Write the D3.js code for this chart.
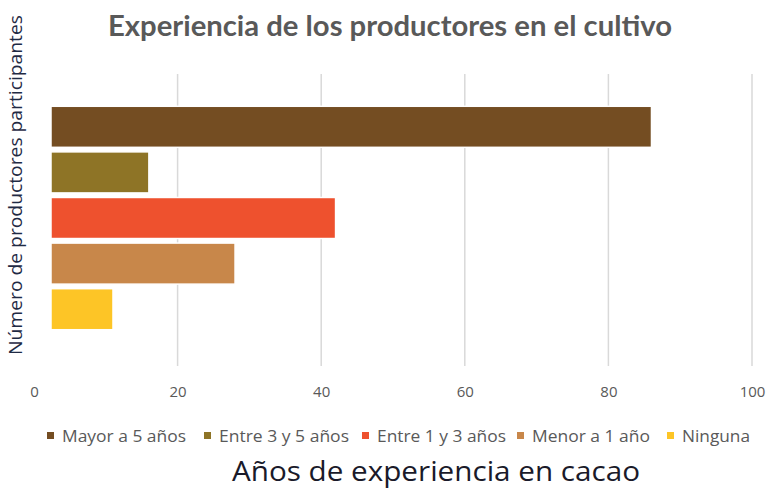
<!DOCTYPE html>
<html><head><meta charset="utf-8">
<script src="https://cdn.jsdelivr.net/npm/d3@7"></script>
<style>body{margin:0;background:#fff}svg{display:block}</style>
</head><body>
<script>
const categories = ["Mayor a 5 años","Entre 3 y 5 años","Entre 1 y 3 años","Menor a 1 año","Ninguna"];
const values = [86,16,42,28,11];
const colors = ["#744D22","#8E7426","#EE512E","#C8874A","#FDC526"];
const xTicks = [0,20,40,60,80,100];
const title = "Experiencia de los productores en el cultivo";
const yTitle = "Número de productores participantes";
const xTitle = "Años de experiencia en cacao";

const W=768,H=489;
const svg=d3.select("body").append("svg").attr("width",W).attr("height",H);
const x=d3.scaleLinear().domain([0,100]).range([34,752]);
const y=d3.scaleBand().domain(categories).range([104,332]).paddingInner(0.1).paddingOuter(0.05);
const barLeft=51;

// gridlines
svg.append("g").selectAll("line").data(xTicks.filter(d=>d>0)).join("line")
 .attr("x1",d=>x(d)).attr("x2",d=>x(d)).attr("y1",74).attr("y2",366)
 .attr("stroke","#d9d9d9").attr("stroke-width",1.5);

// bars
svg.append("g").selectAll("rect").data(categories).join("rect")
 .attr("x",barLeft).attr("y",d=>y(d))
 .attr("width",(d,i)=>x(values[i])-barLeft).attr("height",y.bandwidth())
 .attr("fill",(d,i)=>colors[i]).attr("stroke","#fff").attr("stroke-width",1.5);

// axis tick labels
const ax=d3.axisBottom(x).tickValues(xTicks).tickSize(0).tickPadding(0);
const g=svg.append("g").attr("transform","translate(0,397)").call(ax);
g.select(".domain").remove();
g.selectAll("text").attr("fill","#595959").style("font-family","'Open Sans',sans-serif").style("font-size","15px").attr("dy","0");

// title
svg.append("text").attr("x",390).attr("y",36).attr("text-anchor","middle")
 .attr("textLength",564).attr("lengthAdjust","spacingAndGlyphs")
 .style("font-family","Lato,sans-serif").style("font-weight","bold").style("font-size","29px")
 .attr("fill","#595959").text(title);

// y title
svg.append("text").attr("transform","translate(22,185) rotate(-90)").attr("text-anchor","middle")
 .attr("textLength",340).attr("lengthAdjust","spacingAndGlyphs")
 .style("font-family","'Open Sans',sans-serif").style("font-size","18px").attr("fill","#1F2A44").text(yTitle);

// x title
svg.append("text").attr("x",436).attr("y",481).attr("text-anchor","middle")
 .attr("textLength",408).attr("lengthAdjust","spacingAndGlyphs")
 .style("font-family","'Open Sans',sans-serif").style("font-size","28px").attr("fill","#1a1a2a").text(xTitle);

// legend
const legX=[47,204,362,517,667];
const legW=[124,130,129,118,68];
const lg=svg.append("g").selectAll("g").data(categories).join("g").attr("transform",(d,i)=>`translate(${legX[i]},436)`);
lg.append("rect").attr("x",0).attr("y",-4).attr("width",7).attr("height",7).attr("fill",(d,i)=>colors[i]);
lg.append("text").attr("x",15).attr("y",6)
 .attr("textLength",(d,i)=>legW[i]).attr("lengthAdjust","spacingAndGlyphs")
 .style("font-family","'Open Sans',sans-serif").style("font-size","16px").attr("fill","#595959").text(d=>d);
</script>
</body></html>
